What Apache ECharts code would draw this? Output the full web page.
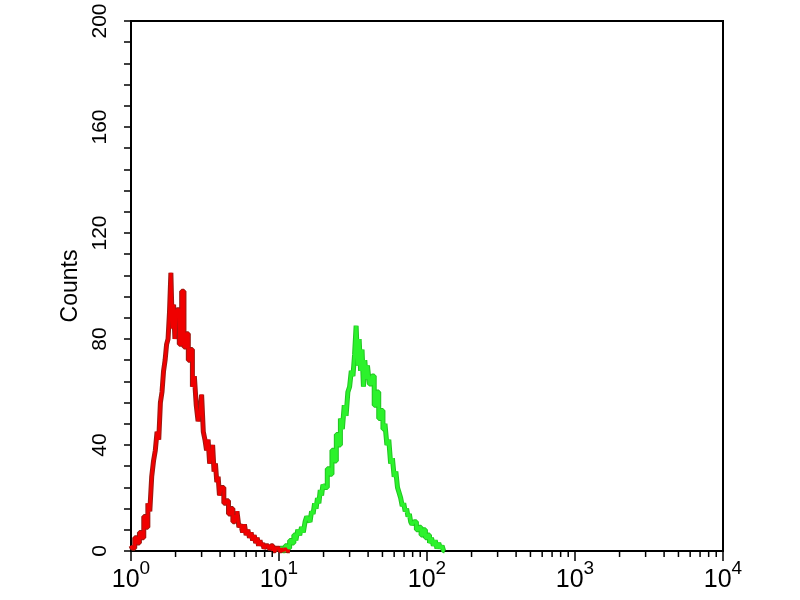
<!DOCTYPE html>
<html>
<head>
<meta charset="utf-8">
<script src="https://cdn.jsdelivr.net/npm/echarts@6/dist/echarts.min.js"></script>
<style>
html,body{margin:0;padding:0;background:#fff;}
#chart{width:800px;height:600px;}
</style>
</head>
<body>
<div id="chart"></div>
<script>
// Fluorescence intensity (x) and counts (y) for the two histograms
const redX = [
  1.00,1.04,1.08,1.12,1.16,1.20,1.24,1.28,1.32,1.36,1.40,1.44,1.48,1.52,1.56,1.60,1.64,1.68,1.72,1.76,1.80,1.84,1.88,1.92,1.96,
  2.00,2.08,2.16,2.24,2.32,2.40,2.48,2.56,2.64,2.72,2.80,2.88,2.96,3.04,3.12,3.20,3.28,3.36,3.44,3.52,3.60,3.68,3.76,3.84,3.92,
  4.00,4.16,4.32,4.48,4.64,4.80,4.96,5.12,5.28,5.44,5.60,5.76,5.92,6.08,6.24,6.40,6.56,6.72,6.88,7.04,7.20,7.36,7.52,7.68,7.84,
  8.00,8.32,8.64,8.96,9.28,9.60,9.92,10.24,10.56,10.88,11.20,11.52,11.84
];
const redCounts = [
  2,1,5,3,7,5,13,9,18,15,28,34,38,45,42,56,60,68,72,78,80,90,105,84,93,
  80,91,78,98,77,82,72,76,62,66,55,49,52,59,45,42,38,42,33,36,40,30,33,26,28,
  21,24,18,19,14,16,11,13,15,9,10,7,10,6,8,5,7,4,6,3,5,2,4,2,3,
  1,2,1,2,0,1,1,0,1,0,1,0,0
];
const greenX = [
  10.0,10.4,10.8,11.2,11.6,12.0,12.4,12.8,13.2,13.6,14.0,14.4,14.8,15.2,15.6,16.0,16.4,16.8,17.2,17.6,18.0,18.4,18.8,19.2,19.6,
  20.0,20.8,21.6,22.4,23.2,24.0,24.8,25.6,26.4,27.2,28.0,28.8,29.6,30.4,31.2,32.0,32.8,33.6,34.4,35.2,36.0,36.8,37.6,38.4,39.2,
  40.0,41.6,43.2,44.8,46.4,48.0,49.6,51.2,52.8,54.4,56.0,57.6,59.2,60.8,62.4,64.0,65.6,67.2,68.8,70.4,72.0,73.6,75.2,76.8,78.4,
  80.0,83.2,86.4,89.6,92.8,96.0,99.2,102.4,105.6,108.8,112.0,115.2,118.4,121.6,124.8,128.0,131.2
];
const greenCounts = [
  0,1,0,2,1,4,3,6,4,8,6,9,7,11,13,12,11,15,14,18,16,20,18,23,21,
  25,24,31,29,38,34,44,40,50,46,55,51,60,62,68,66,74,85,70,80,68,76,62,72,65,
  70,63,66,55,60,50,53,46,48,40,42,33,35,28,30,24,22,20,17,18,15,16,13,14,11,
  10,11,8,9,6,8,5,6,3,5,2,4,1,3,1,2,0
];
// Axis ticks and labels
const xMin = 1, xMax = 10000;
const xTickExponents = ['0','1','2','3','4'];
const xMinorTicks = [2,3,4,5,6,7,8,9,20,30,40,50,60,70,80,90,200,300,400,500,600,700,800,900,2000,3000,4000,5000,6000,7000,8000,9000];
const yMin = 0, yMax = 200, yInterval = 40;
const yTitle = 'Counts';

function pairs(xs, ys){ return xs.map((x,i)=>[x, ys[i]]); }

const chart = echarts.init(document.getElementById('chart'), null, {renderer:'canvas'});
const FONT = 'Liberation Sans, Arial, sans-serif';

chart.setOption({
  animation: false,
  backgroundColor: '#ffffff',
  grid: {left: 131, top: 21, right: 77, bottom: 49, show: true, borderColor: '#000', borderWidth: 2, backgroundColor: '#fff'},
  xAxis: {
    type: 'log', min: xMin, max: xMax, logBase: 10,
    axisLine: {show: true, lineStyle: {color: '#000', width: 2}},
    axisTick: {show: true, length: 10, inside: false, lineStyle: {color: '#000', width: 1.5}},
    splitLine: {show: false},
    minorTick: {show: false},
    axisLabel: {
      margin: 8,
      fontFamily: FONT,
      color: '#000',
      formatter: function(v, i){ return '{b|10}{s|' + xTickExponents[Math.round(Math.log10(v))] + '}'; },
      rich: {
        b: {fontSize: 25, fontFamily: FONT, color: '#000', verticalAlign: 'bottom'},
        s: {fontSize: 19, fontFamily: FONT, color: '#000', verticalAlign: 'bottom', padding: [0,0,15,0]}
      }
    }
  },
  yAxis: {
    type: 'value', min: yMin, max: yMax, interval: yInterval,
    name: yTitle, nameLocation: 'middle', nameRotate: 90, nameGap: 47,
    nameTextStyle: {fontSize: 23, fontFamily: FONT, color: '#000'},
    axisLine: {show: true, lineStyle: {color: '#000', width: 2}},
    axisTick: {show: true, length: 7, lineStyle: {color: '#000', width: 1.5}},
    minorTick: {show: true, splitNumber: 5, length: 7, lineStyle: {color: '#000', width: 1.5}},
    splitLine: {show: false},
    minorSplitLine: {show: false},
    axisLabel: {rotate: 90, margin: 20, fontSize: 21, fontFamily: FONT, color: '#000'}
  },
  series: [
    {
      type: 'custom', name: 'minorX', silent: true, clip: false,
      data: xMinorTicks.map(v => [v, 0]),
      renderItem: function(params, api){
        const p = api.coord([api.value(0), 0]);
        return {type: 'line', shape: {x1: p[0], y1: p[1], x2: p[0], y2: p[1] + 6}, style: {stroke: '#000', lineWidth: 1.5}};
      },
      z: 5
    },
    {type: 'line', data: pairs(greenX, greenCounts), symbol: 'none', step: 'middle', lineStyle: {color: '#22c422', width: 5}, z: 2, silent: true},
    {type: 'line', data: pairs(greenX, greenCounts), symbol: 'none', step: 'middle', lineStyle: {color: '#2cf22c', width: 3}, z: 3, silent: true},
    {type: 'line', data: pairs(redX, redCounts), symbol: 'none', step: 'middle', lineStyle: {color: '#9a1a12', width: 5}, z: 2, silent: true},
    {type: 'line', data: pairs(redX, redCounts), symbol: 'none', step: 'middle', lineStyle: {color: '#f00000', width: 3}, z: 3, silent: true}
  ]
});
</script>
</body>
</html>
